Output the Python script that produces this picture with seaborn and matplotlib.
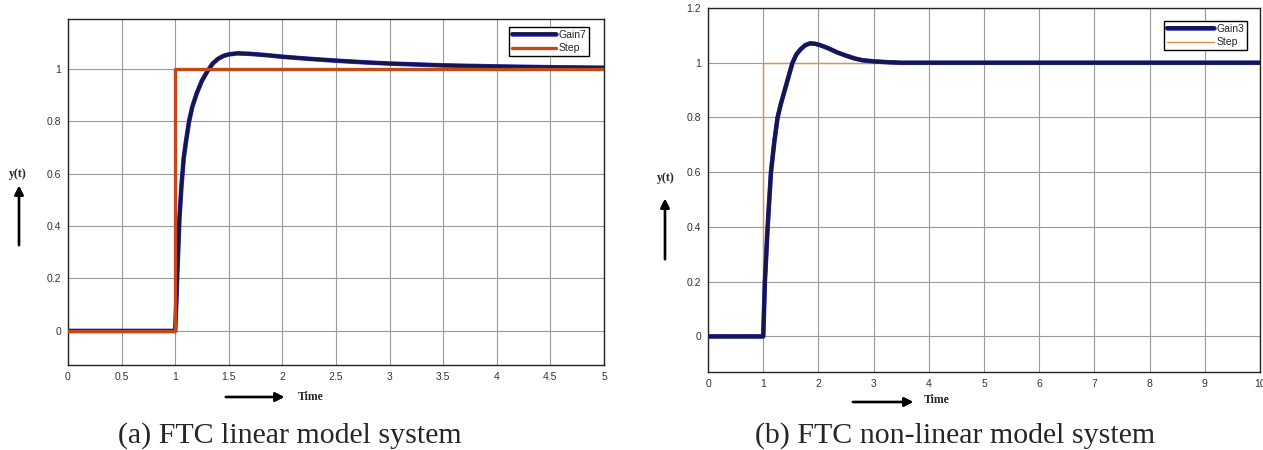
"""Step responses of the FTC linear and non-linear model systems."""

import matplotlib
matplotlib.use("Agg")
import matplotlib.pyplot as plt
import matplotlib.patheffects as pe
import seaborn as sns

# (a) linear model
t_lin = [0, 1.0, 1.01, 1.02, 1.04, 1.06, 1.08, 1.10, 1.13, 1.16, 1.20, 1.25, 1.30,
         1.35, 1.40, 1.45, 1.50, 1.58, 1.70, 1.85, 2.0, 2.25, 2.5, 2.75, 3.0, 3.5,
         4.0, 4.5, 5.0]
gain7 = [0, 0, 0.10, 0.22, 0.43, 0.56, 0.66, 0.72, 0.80, 0.855, 0.905, 0.955, 0.99,
         1.02, 1.038, 1.049, 1.055, 1.059, 1.057, 1.052, 1.046, 1.038, 1.031, 1.025,
         1.020, 1.013, 1.009, 1.006, 1.004]
step_lin_t = [0, 1, 1, 5]
step_lin_y = [0, 0, 1, 1]

# (b) non-linear model
t_nl = [0, 1.0, 1.03, 1.08, 1.14, 1.20, 1.26, 1.32, 1.39, 1.46, 1.53, 1.60, 1.68,
        1.76, 1.85, 1.95, 2.05, 2.2, 2.35, 2.5, 2.65, 2.8, 3.0, 3.25, 3.5, 10]
gain3 = [0, 0, 0.2, 0.4, 0.6, 0.71, 0.8, 0.85, 0.9, 0.95, 1.0, 1.03, 1.05, 1.064,
         1.071, 1.069, 1.063, 1.051, 1.037, 1.026, 1.016, 1.009, 1.005, 1.002, 1.0, 1.0]
step_nl_t = [0, 1, 1, 10]
step_nl_y = [0, 0, 1, 1]

x_ticks_lin = [0, 0.5, 1, 1.5, 2, 2.5, 3, 3.5, 4, 4.5, 5]
x_ticks_nl = list(range(0, 11))
y_ticks_lin = [0, 0.2, 0.4, 0.6, 0.8, 1]
y_ticks_nl = [0, 0.2, 0.4, 0.6, 0.8, 1, 1.2]

NAVY = "#16164c"
halo = [pe.Stroke(linewidth=3.3, foreground="#3434c8"), pe.Normal()]

sns.set_style("white")
plt.rcParams["font.family"] = ["Liberation Sans", "DejaVu Sans"]

fig = plt.figure(figsize=(12.63, 4.5), dpi=100)
ax1 = fig.add_axes([0.0538, 0.1889, 0.4244, 0.7689])
ax2 = fig.add_axes([0.5606, 0.1733, 0.437, 0.8089])


def px(x, y):
    return x / 1263, 1 - y / 450


def style_axes(ax, xticks, yticks, xlim, ylim):
    ax.set_xlim(*xlim)
    ax.set_ylim(*ylim)
    ax.set_xticks(xticks)
    ax.set_yticks(yticks)
    ax.set_xticklabels([f"{v:g}" for v in xticks])
    ax.set_yticklabels([f"{v:g}" for v in yticks])
    ax.grid(True, color="#9a9a9a", lw=0.8)
    ax.tick_params(direction="in", length=3, labelsize=7.5, colors="#333333",
                   pad=5)
    for s in ax.spines.values():
        s.set_visible(True)
        s.set_color("#222222")
        s.set_linewidth(1.0)
    ax.set_xlabel("")
    ax.set_ylabel("")


def add_legend(ax, anchor, hl):
    ax.legend(loc="upper right", bbox_to_anchor=px(*anchor),
              bbox_transform=fig.transFigure, borderaxespad=0, frameon=True,
              fancybox=False, edgecolor="black", fontsize=7.5, handlelength=hl,
              labelspacing=0.3, handletextpad=0.2, borderpad=0.3, framealpha=1)


# (a)
sns.lineplot(x=t_lin, y=gain7, ax=ax1, color=NAVY, lw=2.6, label="Gain7",
             estimator=None, sort=False, path_effects=halo, zorder=3)
sns.lineplot(x=step_lin_t, y=step_lin_y, ax=ax1, color="#c24a18", lw=2.4,
             label="Step", estimator=None, sort=False, zorder=4)
style_axes(ax1, x_ticks_lin, y_ticks_lin, (0, 5), (-0.13, 1.19))
add_legend(ax1, (589, 27), 4.2)

# (b)
sns.lineplot(x=t_nl, y=gain3, ax=ax2, color=NAVY, lw=2.8, label="Gain3",
             estimator=None, sort=False, path_effects=halo, zorder=3)
sns.lineplot(x=step_nl_t, y=step_nl_y, ax=ax2, color="#e0904a", lw=1.0,
             label="Step", estimator=None, sort=False, zorder=2)
style_axes(ax2, x_ticks_nl, y_ticks_nl, (0, 10), (-0.13, 1.2))
add_legend(ax2, (1247, 21), 4.5)

# axis annotations with arrows
serif = ["Liberation Serif", "DejaVu Serif"]
arrow = dict(arrowstyle="-|>", color="black", lw=1.7, mutation_scale=13)


def arrow_between(start, end):
    fig.add_artist(plt.annotate("", xy=px(*end), xytext=px(*start),
                                xycoords="figure fraction", arrowprops=arrow))


fig.text(*px(18, 174), "y(t)", family=serif, weight="bold", fontsize=8.5,
         ha="center", va="center")
arrow_between((19, 248), (19, 183))
fig.text(*px(311, 397), "Time", family=serif, weight="bold", fontsize=8.5,
         ha="center", va="center")
arrow_between((223, 397), (287, 397))

fig.text(*px(666, 178), "y(t)", family=serif, weight="bold", fontsize=8.5,
         ha="center", va="center")
arrow_between((665, 262), (665, 196))
fig.text(*px(937, 400), "Time", family=serif, weight="bold", fontsize=8.5,
         ha="center", va="center")
arrow_between((850, 402), (916, 402))

# captions
fig.text(*px(290, 436), "(a) FTC linear model system", family=serif,
         fontsize=21.5, ha="center", va="center")
fig.text(*px(955, 436), "(b) FTC non-linear model system", family=serif,
         fontsize=21.5, ha="center", va="center")

fig.savefig("out.png", dpi=100)
